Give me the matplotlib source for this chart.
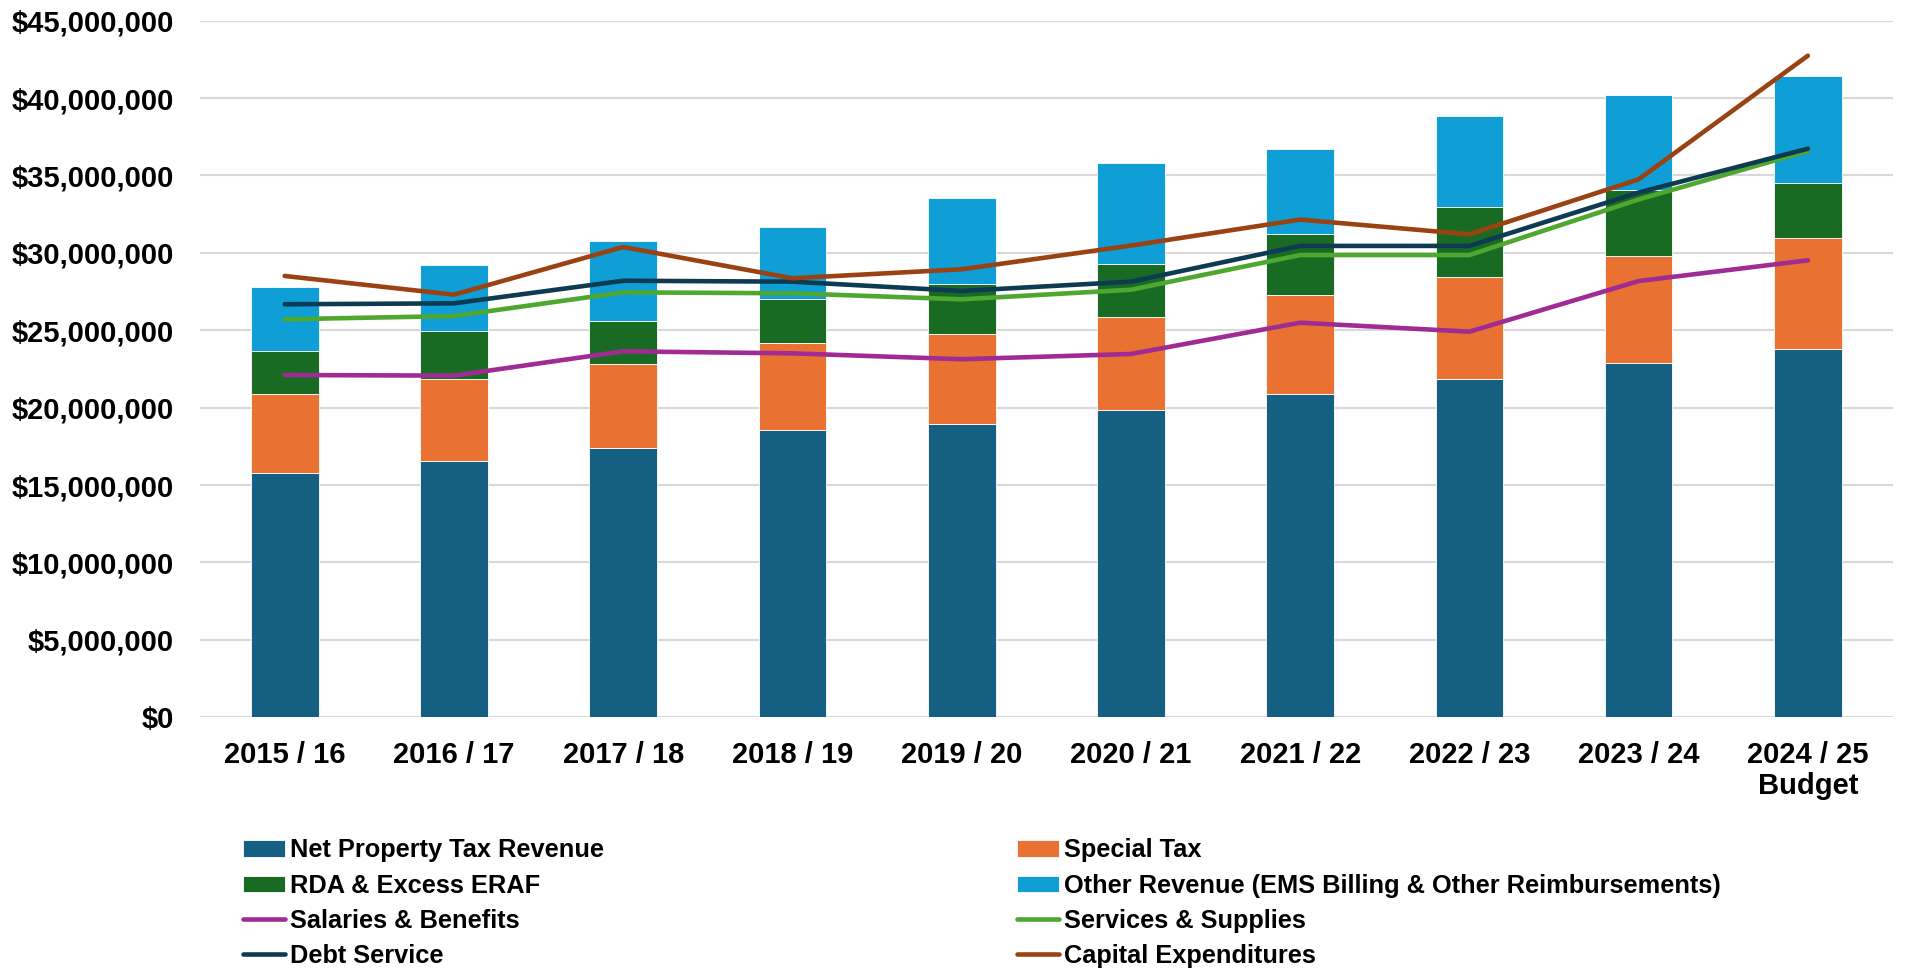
import numpy as np
import matplotlib.pyplot as plt
from matplotlib.ticker import FuncFormatter

# === Données ===
years = ["2015 / 16", "2016 / 17", "2017 / 18", "2018 / 19", "2019 / 20",
         "2020 / 21", "2021 / 22", "2022 / 23", "2023 / 24", "2024 / 25\nBudget"]

# totaux cumulés (M$), convertis en segments plus bas
net_property_top = [15.76, 16.58, 17.42, 18.56, 18.95, 19.83, 20.90, 21.87, 22.89, 23.79]
special_tax_top = [20.89, 21.85, 22.84, 24.18, 24.76, 25.86, 27.26, 28.44, 29.80, 30.96]
rda_top = [23.68, 24.97, 25.62, 27.00, 28.01, 29.30, 31.24, 32.97, 34.08, 34.54]
other_top = [27.82, 29.20, 30.79, 31.69, 33.55, 35.81, 36.73, 38.86, 40.22, 41.41]

salaries = [22.11, 22.07, 23.64, 23.51, 23.13, 23.47, 25.49, 24.91, 28.18, 29.52]
services = [25.71, 25.92, 27.45, 27.39, 27.00, 27.62, 29.86, 29.86, 33.45, 36.58]
debt_service = [26.68, 26.74, 28.20, 28.14, 27.54, 28.14, 30.45, 30.45, 33.90, 36.73]
capital_exp = [28.51, 27.30, 30.38, 28.36, 28.94, 30.47, 32.15, 31.20, 34.75, 42.74]

M = 1e6
net_property = np.array(net_property_top) * M
special_tax = (np.array(special_tax_top) - np.array(net_property_top)) * M
rda = (np.array(rda_top) - np.array(special_tax_top)) * M
other_rev = (np.array(other_top) - np.array(rda_top)) * M

# === Style ===
plt.rcParams['font.family'] = ['Liberation Sans', 'DejaVu Sans']
plt.rcParams['font.weight'] = 'bold'

fig = plt.figure(figsize=(19.07, 9.71), dpi=100)
ax = fig.add_axes([0.1049, 0.2613, 0.8875, 0.7174])

x = np.arange(len(years))
w = 0.40
edge = dict(edgecolor='white', linewidth=0.6)

b1 = ax.bar(x, net_property, w, color='#156082', label='Net Property Tax Revenue', **edge)
b2 = ax.bar(x, special_tax, w, bottom=net_property, color='#E97132', label='Special Tax', **edge)
b3 = ax.bar(x, rda, w, bottom=net_property + special_tax, color='#196B24',
            label='RDA & Excess ERAF', **edge)
b4 = ax.bar(x, other_rev, w, bottom=net_property + special_tax + rda, color='#0F9ED5',
            label='Other Revenue (EMS Billing & Other Reimbursements)', **edge)

lw = 3.3
l1, = ax.plot(x, np.array(salaries) * M, color='#A02B93', lw=lw,
              solid_capstyle='round', label='Salaries & Benefits')
l2, = ax.plot(x, np.array(services) * M, color='#4EA72E', lw=lw,
              solid_capstyle='round', label='Services & Supplies')
l3, = ax.plot(x, np.array(debt_service) * M, color='#0E3A52', lw=lw,
              solid_capstyle='round', label='Debt Service')
l4, = ax.plot(x, np.array(capital_exp) * M, color='#9A4212', lw=lw,
              solid_capstyle='round', label='Capital Expenditures')

ax.set_xlim(-0.5, len(years) - 0.5)
ax.set_ylim(0, 45 * M)
ax.set_yticks(np.arange(0, 45 * M + 1, 5 * M))
ax.yaxis.set_major_formatter(FuncFormatter(lambda v, p: f"${v:,.0f}"))
ax.set_xticks(x)
ax.set_xticklabels(years, linespacing=1.15)
ax.tick_params(axis='both', length=0, labelsize=21)
ax.tick_params(axis='y', pad=19)
ax.tick_params(axis='x', pad=17)
ax.grid(axis='y', color='#D9D9D9', linewidth=1.5)
ax.set_axisbelow(True)
for s in ax.spines.values():
    s.set_visible(False)

# ordre : colonne 1 puis colonne 2
handles = [b1, b3, l1, l3, b2, b4, l2, l4]
fig.legend(handles=handles, labels=[h.get_label() for h in handles],
           loc='upper left', bbox_to_anchor=(0.122, 0.147), ncol=2, frameon=False,
           fontsize=18.3, handlelength=1.65, handleheight=0.6, handletextpad=0.2,
           columnspacing=16.25, labelspacing=0.44, borderaxespad=0)

plt.savefig("out.png", dpi=100)
